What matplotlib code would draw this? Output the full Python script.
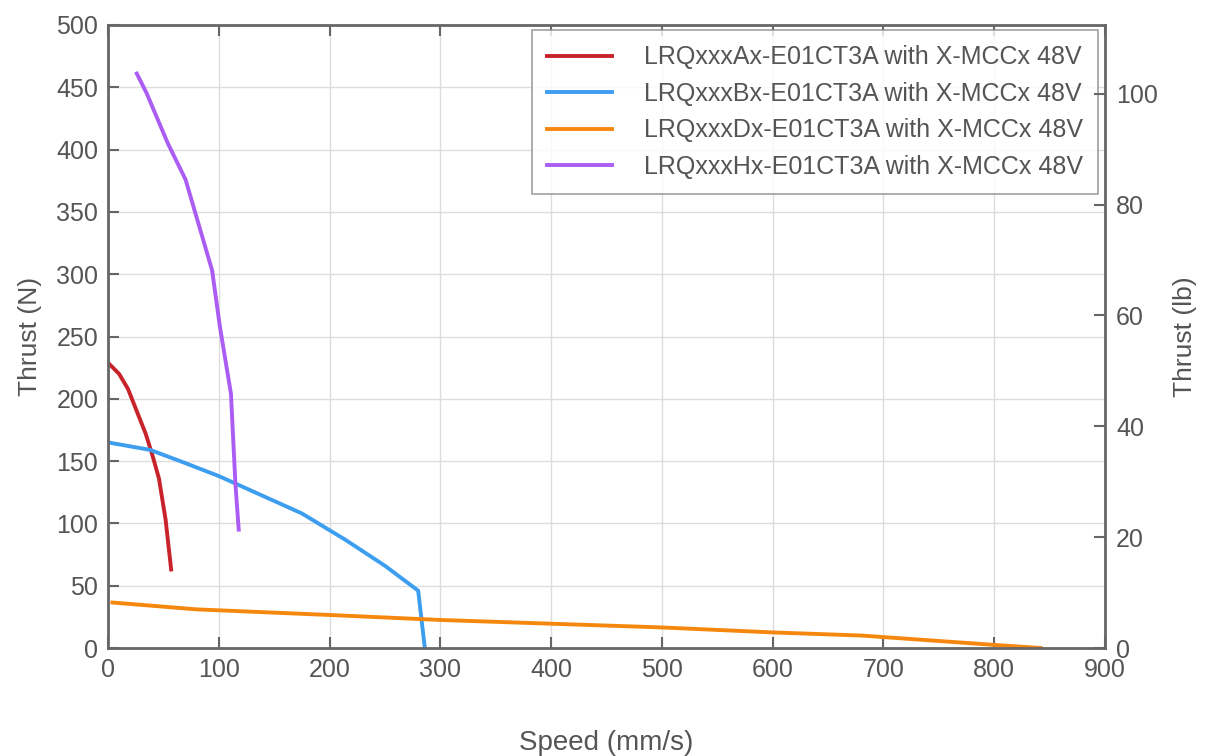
import matplotlib
matplotlib.use('Agg')
from matplotlib import pyplot as plt

# 数据：速度 (mm/s) 与推力 (N)
speed_a = [0, 10, 18, 26, 34, 40, 46, 52, 57]
thrust_a = [229, 220, 208, 190, 172, 155, 136, 103, 63]

speed_b = [0, 38, 68, 100, 140, 175, 214, 250, 280, 286]
thrust_b = [165, 159, 149, 138, 122, 108, 87, 66, 46, 0]

speed_d = [4, 80, 200, 300, 400, 500, 600, 680, 800, 842]
thrust_d = [36.5, 31, 26.5, 22.5, 19.5, 16.5, 12.5, 10, 2.5, 0]

speed_h = [26, 35, 54, 70, 94, 101, 111, 115, 118]
thrust_h = [461, 445, 405, 376, 303, 258, 204, 132, 95]

labels = ['LRQxxxAx-E01CT3A with X-MCCx 48V',
          'LRQxxxBx-E01CT3A with X-MCCx 48V',
          'LRQxxxDx-E01CT3A with X-MCCx 48V',
          'LRQxxxHx-E01CT3A with X-MCCx 48V']
colors = ['#c8232a', '#3d9ef0', '#f5870f', '#ab5cf2']

N_TO_LB = 0.224809

plt.rcParams['font.family'] = ['Liberation Sans', 'DejaVu Sans']
txt = '#555555'
spine_c = '#666666'

fig = plt.figure(figsize=(12.12, 7.56), dpi=100)
ax = fig.add_axes([108 / 1212, 108 / 756, 997 / 1212, 623 / 756])

series = [(speed_a, thrust_a), (speed_b, thrust_b), (speed_d, thrust_d), (speed_h, thrust_h)]
for (x, y), lab, c in zip(series, labels, colors):
    ax.plot(x, y, color=c, lw=2.8, label=lab, solid_joinstyle='round')

ax.set_xlim(0, 900)
ax.set_ylim(0, 500)
ax.set_xticks(range(0, 901, 100))
ax.set_yticks(range(0, 501, 50))
ax.grid(True, color='#dddddd', lw=1)
ax.set_axisbelow(True)
ax.tick_params(direction='in', length=8, width=1.5, color=spine_c,
               labelsize=18, labelcolor=txt, top=True, pad=7)
for s in ax.spines.values():
    s.set_color(spine_c)
    s.set_linewidth(2)

ax.set_xlabel('Speed (mm/s)', fontsize=20, color=txt, labelpad=35)
ax.set_ylabel('Thrust (N)', fontsize=19, color=txt, labelpad=10)

ax2 = ax.twinx()
ax2.set_ylim(0, 500 * N_TO_LB)
ax2.set_yticks(range(0, 101, 20))
ax2.tick_params(direction='in', length=8, width=1.5, color=spine_c,
                labelsize=18, labelcolor=txt, pad=8)
for s in ax2.spines.values():
    s.set_visible(False)
ax2.set_ylabel('Thrust (lb)', fontsize=19, color=txt, labelpad=11)

leg = ax.legend(loc='upper right', fontsize=18, frameon=True, fancybox=False,
                edgecolor='#888888', borderpad=0.62, handlelength=2.6,
                handletextpad=1.25, labelspacing=0.5, borderaxespad=0,
                bbox_to_anchor=(0.993, 0.992))
leg.get_frame().set_linewidth(1.2)
for t in leg.get_texts():
    t.set_color(txt)

fig.savefig('out.png', dpi=100, facecolor='white')
